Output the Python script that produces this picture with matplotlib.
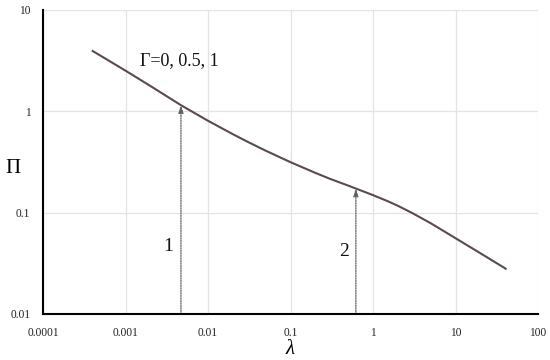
import matplotlib
matplotlib.use("Agg")
import matplotlib.pyplot as plt

# Data
lam = [0.0004, 0.001, 0.002, 0.0047, 0.01, 0.02, 0.03, 0.05, 0.1, 0.2, 0.3, 0.5, 0.62, 1, 1.5, 2, 3, 5, 10, 20, 40.6]
pi_vals = [3.94, 2.52, 1.78, 1.15, 0.807, 0.595, 0.502, 0.409, 0.315, 0.247, 0.216, 0.185, 0.173, 0.149, 0.130, 0.117, 0.099, 0.0787, 0.0560, 0.0398, 0.0280]

arrow_x = [0.0047, 0.62]
arrow_y = [1.15, 0.173]
arrow_labels = ["1", "2"]
arrow_label_pos = [(0.0033, 0.046), (0.445, 0.041)]

x_ticks = [0.0001, 0.001, 0.01, 0.1, 1, 10, 100]
x_tick_labels = ["0.0001", "0.001", "0.01", "0.1", "1", "10", "100"]
y_ticks = [0.01, 0.1, 1, 10]
y_tick_labels = ["0.01", "0.1", "1", "10"]

curve_label = "Γ=0, 0.5, 1"

plt.rcParams['font.family'] = ['Liberation Serif', 'DejaVu Serif']

fig = plt.figure(figsize=(5.5, 3.6), dpi=100)
ax = fig.add_axes([43/550, 1 - 314/360, (538 - 43)/550, (314 - 10)/360])

ax.set_xscale('log')
ax.set_yscale('log')
ax.set_xlim(x_ticks[0], x_ticks[-1])
ax.set_ylim(y_ticks[0], y_ticks[-1])

ax.plot(lam, pi_vals, color='#5b4a4c', lw=1.5, zorder=3, solid_joinstyle='round')

for xa, ya in zip(arrow_x, arrow_y):
    ax.annotate('', xy=(xa, ya), xytext=(xa, y_ticks[0]),
                arrowprops=dict(arrowstyle='-|>,head_length=0.45,head_width=0.15',
                                linestyle=(0, (1, 1)), color='#606060', lw=0.9,
                                shrinkA=0, shrinkB=0), zorder=2)

for lab, (lx, ly) in zip(arrow_labels, arrow_label_pos):
    ax.text(lx, ly, lab, fontsize=14, ha='center', va='center', color='#111111')

ax.text(0.0015, 3.2, curve_label, fontsize=13, ha='left', va='center', color='#111111')

ax.set_xticks(x_ticks)
ax.set_xticklabels(x_tick_labels)
ax.set_yticks(y_ticks)
ax.set_yticklabels(y_tick_labels)
ax.minorticks_off()
ax.tick_params(axis='both', length=0, labelsize=8.3, colors='#222222')
ax.tick_params(axis='x', pad=9)
ax.tick_params(axis='y', pad=9)

ax.grid(True, which='major', color='#e3e3e3', lw=0.9)
ax.set_axisbelow(True)
for s in ['top', 'right']:
    ax.spines[s].set_visible(False)
for s in ['left', 'bottom']:
    ax.spines[s].set_linewidth(1.5)
    ax.spines[s].set_color('black')
    ax.spines[s].set_zorder(4)

ax.set_xlabel('λ', fontsize=15, style='italic', labelpad=1)
ax.set_ylabel('Π', fontsize=15, rotation=0, labelpad=14, va='center')
ax.yaxis.set_label_coords(-0.06, 0.48)

fig.savefig('out.png', dpi=100, facecolor='white')
